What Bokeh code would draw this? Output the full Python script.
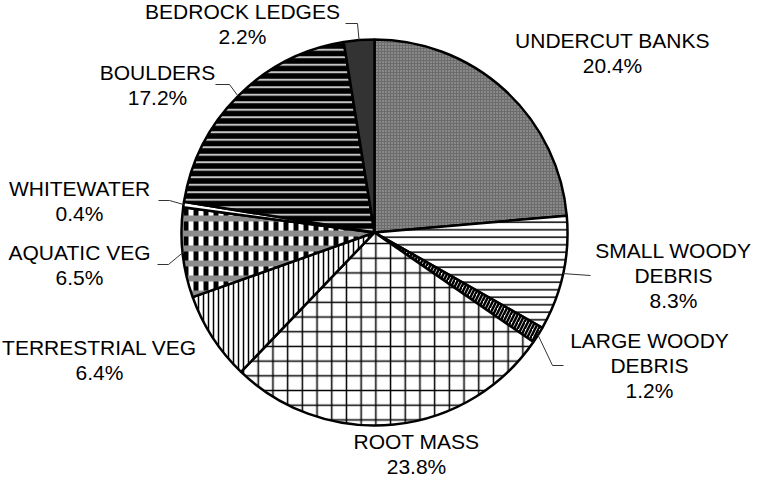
import numpy as np
from bokeh.plotting import figure
from bokeh.models import Range1d
from bokeh.embed import file_html
from bokeh.resources import INLINE
from bokeh.core.properties import value

# ---- data ----
categories = ["UNDERCUT BANKS", "SMALL WOODY DEBRIS", "LARGE WOODY DEBRIS", "ROOT MASS",
              "TERRESTRIAL VEG", "AQUATIC VEG", "WHITEWATER", "BOULDERS", "BEDROCK LEDGES"]
label_names = [["UNDERCUT BANKS"], ["SMALL WOODY", "DEBRIS"], ["LARGE WOODY", "DEBRIS"], ["ROOT MASS"],
               ["TERRESTRIAL VEG"], ["AQUATIC VEG"], ["WHITEWATER"], ["BOULDERS"], ["BEDROCK LEDGES"]]
percents = [20.4, 8.3, 1.2, 23.8, 6.4, 6.5, 0.4, 17.2, 2.2]

# ---- layout (page pixels) ----
W, H = 751, 479
CX, CY, R = 382, 240, 193
FS = 21
LH = 25
# label block: center x, center y of block
label_pos = [(620, 60), (681, 283), (657, 373), (424, 461), (107, 367),
             (87, 272), (87, 208), (165, 92), (250, 31)]
# leader: None or (anchor_x, elbow_x) where anchor at block centre y
leaders = [None, (598, None), (571, 560), None, None, (165, 176), (166, 177), (223, 237), (353, 365)]

styles = [
    dict(fill_color="#6c6c6c", hatch_pattern="dot", hatch_color="#b4b4b4", hatch_scale=3, hatch_weight=1),
    dict(fill_color="white", hatch_pattern="horizontal_line", hatch_color="black", hatch_scale=7.5, hatch_weight=1.5),
    dict(fill_color="white", hatch_pattern="right_diagonal_line", hatch_color="black", hatch_scale=7, hatch_weight=2.5),
    dict(fill_color="white", hatch_pattern="cross", hatch_color="black", hatch_scale=14.7, hatch_weight=1.5),
    dict(fill_color="white", hatch_pattern="vertical_line", hatch_color="black", hatch_scale=5, hatch_weight=1.5),
    None,  # aquatic: layered
    dict(fill_color="white"),
    dict(fill_color="black", hatch_pattern="horizontal_line", hatch_color="#c4c4c4", hatch_scale=7.5, hatch_weight=2),
    dict(fill_color="#333333"),
]


def Y(py):
    return 495 - py


p = figure(width=W, height=H, x_range=Range1d(8, 8 + W), y_range=Range1d(8, 8 + H),
           output_backend="svg", toolbar_location=None, min_border=0,
           x_axis_type=None, y_axis_type=None)
p.grid.visible = False
p.outline_line_color = None
p.background_fill_color = "white"

total = float(sum(percents))
cum = np.concatenate([[0.0], np.cumsum(percents)]) / total
starts = np.pi / 2 - 2 * np.pi * cum[:-1]
ends = np.pi / 2 - 2 * np.pi * cum[1:]
mids = (starts + ends) / 2

for i in range(len(percents)):
    kw = dict(x=[CX], y=[Y(CY)], radius=[R], radius_units="screen",
              start_angle=[starts[i]], end_angle=[ends[i]], direction="clock")
    if styles[i] is None:
        p.wedge(**kw, fill_color="white", line_color=None,
                hatch_pattern="vertical_line", hatch_color="black", hatch_scale=10, hatch_weight=5)
        p.wedge(**kw, fill_color=None, line_color=None,
                hatch_pattern="horizontal_line", hatch_color="#8c8c8c", hatch_scale=15, hatch_weight=6)
        p.wedge(**kw, fill_color=None, line_color="black", line_width=2.5)
    else:
        p.wedge(**kw, line_color="black", line_width=2.5, **styles[i])

# leaders
for i, ld in enumerate(leaders):
    if ld is None:
        continue
    ex = CX + R * np.cos(mids[i])
    ey = CY - R * np.sin(mids[i])
    ax, elx = ld
    ay = label_pos[i][1]
    if elx is None:
        xs = [ax, ex]
        ys = [Y(ay), Y(ey)]
    else:
        xs = [ax, elx, ex]
        ys = [Y(ay), Y(ay), Y(ey)]
    p.line(xs, ys, line_color="#333333", line_width=1)

# labels
tx, ty, tt = [], [], []
for i, names in enumerate(label_names):
    lines = names + [f"{percents[i]:.1f}%"]
    n = len(lines)
    cx, cy = label_pos[i]
    for k, s in enumerate(lines):
        tx.append(cx)
        ty.append(Y(cy + (k - (n - 1) / 2) * LH))
        tt.append(s)
p.text(x=tx, y=ty, text=tt, text_font=value("Liberation Sans"), text_font_size=f"{FS}px",
       text_align="center", text_baseline="middle", text_color="black")

open("out.html", "w").write(file_html(p, INLINE))
